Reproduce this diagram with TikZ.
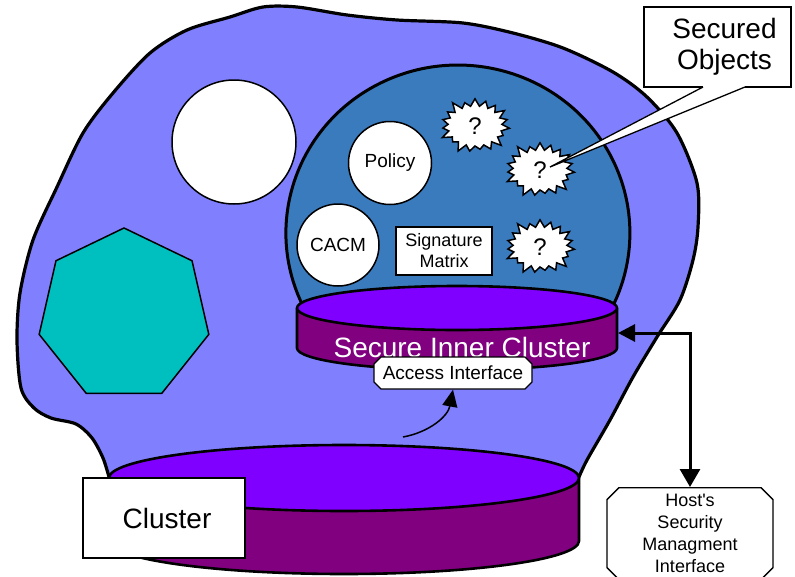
\documentclass[tikz,border=0pt]{standalone}
\usepackage{fontspec}
\setmainfont{Liberation Sans}
\usetikzlibrary{shapes.geometric,shapes.symbols,shapes.misc,arrows.meta}

\definecolor{clusterblue}{HTML}{8080FF}
\definecolor{domeblue}{HTML}{3A7BBE}
\definecolor{discviolet}{HTML}{8000FF}
\definecolor{discpurple}{HTML}{800080}
\definecolor{heptteal}{HTML}{00BFBF}

\tikzset{
  region/.style={draw=black, line width=3.2pt, line join=round},
  discline/.style={draw=black, line width=2.6pt, line join=round},
  thing/.style={draw=black, line width=1.5pt, fill=white},
  ball/.style={thing, circle, inner sep=0pt, font=\fontsize{19}{22}\selectfont},
  burst/.style={thing, starburst, starburst points=19, starburst point height=10pt,
    minimum width=74pt, minimum height=60pt, inner sep=0pt,
    font=\fontsize{24}{28}\selectfont},
  labelbox/.style={draw=black, line width=1.3pt, fill=white, rectangle,
    inner sep=0pt, align=center},
  portbox/.style={draw=black, line width=1.3pt, fill=white, chamfered rectangle,
    chamfered rectangle corners=all, inner sep=0pt, align=center},
  bigtext/.style={font=\fontsize{28}{31}\selectfont},
  midtext/.style={font=\fontsize{19}{21}\selectfont},
  hosttext/.style={font=\fontsize{18}{22}\selectfont},
  heavyconn/.style={draw=black, line width=3pt,
    {Triangle[length=17pt,width=17pt]}-{Triangle[length=18pt,width=20pt]}},
  lightconn/.style={draw=black, line width=1.5pt, -{Triangle[length=17pt,width=15pt]}},
}

\begin{document}
\begin{tikzpicture}[x=1pt,y=-1pt]
\useasboundingbox (0,0) rectangle (795,576);

% outer cluster region
\filldraw[region, fill=clusterblue]
  plot[smooth, tension=0.5] coordinates {
    (109,477) (103,458) (92,438) (76,424) (51,418) (34,408) (21,388)
    (17,340) (20,293) (33,240) (57,187) (83,133) (113,93) (150,53)
    (187,30) (230,17) (263,7) (297,7) (347,15) (397,20) (463,23)
    (513,33) (563,48) (613,72) (647,97) (677,133) (697,183) (698,227)
    (693,260) (680,300) (657,337) (633,377) (610,420) (587,460) (579,477)}
  -- cycle;

% loose members of the cluster
\node[regular polygon, regular polygon sides=7, minimum size=174pt, inner sep=0pt,
  draw=black, line width=1.5pt, fill=heptteal] (hept) at (124,315) {};
\node[ball, minimum size=124pt] (member) at (234,142) {};

% secure dome
\filldraw[region, line width=3pt, fill=domeblue]
  (304,308) arc[start angle=153.5, end angle=386.5, x radius=172, y radius=168]
  -- cycle;

\node[ball, minimum size=83pt] (policy) at (390,163) {Policy};
\node[ball, minimum size=82pt] (cacm) at (338,245) {CACM};
\node[labelbox, font=\fontsize{18}{21}\selectfont,
  minimum width=96pt, minimum height=48pt] (sigmat) at (444,251) {Signature\\Matrix};
\node[burst] (obj1) at (475,126) {?};
\node[burst] (obj2) at (540,170) {?};
\node[burst] (obj3) at (540,247) {?};

% secure inner cluster disc
\filldraw[discline, fill=discpurple]
  (297,308) -- (297,348) arc[start angle=180, end angle=0, x radius=160, y radius=22]
  -- (617,308) -- cycle;
\filldraw[discline, fill=discviolet] (457,308) ellipse[x radius=160, y radius=22];
\node[bigtext, text=white, inner sep=0pt] (sictext) at (462,347) {Secure Inner Cluster};
\coordinate (sicport) at (618,333);

\node[portbox, midtext, chamfered rectangle xsep=3.5pt, chamfered rectangle ysep=3.5pt,
  minimum width=158pt, minimum height=32pt] (access) at (453,373) {Access Interface};

\coordinate (accfrom) at (403,437);
\draw[lightconn] (accfrom) .. controls (430,432) and (448,416) .. (access.south);

% cluster disc
\filldraw[discline, fill=discpurple]
  (109,478) -- (109,541) arc[start angle=180, end angle=0, x radius=235, y radius=33]
  -- (579,478) -- cycle;
\filldraw[discline, fill=discviolet] (344,478) ellipse[x radius=235, y radius=33];

\node[labelbox, bigtext, minimum width=162pt, minimum height=80pt] (cluster)
  at (164,518) {\hspace*{6pt}Cluster};

% host interface
\node[portbox, hosttext, chamfered rectangle xsep=6pt, chamfered rectangle ysep=6pt,
  minimum width=166pt, minimum height=92pt, anchor=north] (host) at (690,487)
  {Host\textquotesingle s\\Security\\Managment\\Interface};
\draw[heavyconn] (sicport) -| (host.north);

% secured objects callout
\node[labelbox, bigtext, minimum width=147pt, minimum height=80pt] (secobj)
  at (717.5,47) {\hspace*{14pt}Secured\\\hspace*{14pt}Objects};
\coordinate (callL) at (703,87);
\coordinate (callR) at (745,87);
\coordinate (calltip) at (550,167);
\fill[white] (703.5,85) -- (744.5,85) -- (callR) -- (calltip) -- (callL) -- cycle;
\draw[black, line width=1.3pt, line join=miter] (callL) -- (calltip) -- (callR);
\end{tikzpicture}
\end{document}
